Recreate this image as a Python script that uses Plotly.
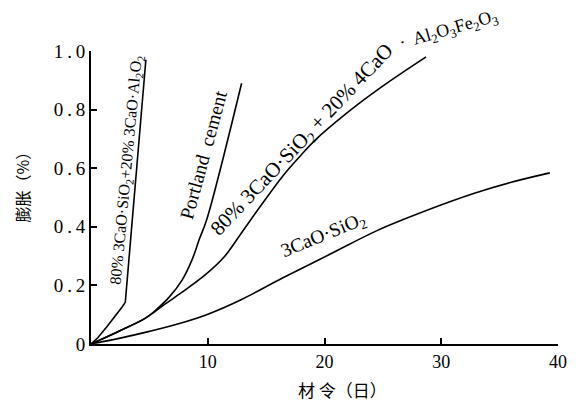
import plotly.graph_objects as go

# Expansion (%) vs. age (days) for several cement compositions
c3a_mix_days = [0, 0.6, 1.34, 2.2, 2.7, 2.94, 4.7]
c3a_mix_exp = [0, 0.022, 0.058, 0.10, 0.128, 0.143, 0.97]

portland_days = [0, 2.3, 4.7, 5.8, 6.7, 7.8, 8.65, 9.3, 9.9, 12.9]
portland_exp = [0, 0.042, 0.089, 0.125, 0.16, 0.218, 0.287, 0.36, 0.423, 0.89]

c4af_mix_days = [0, 2.3, 4.7, 6.3, 7.8, 9.75, 11.4, 12.9, 14.6, 16.4, 18.0, 19.2, 21.9, 24.8, 28.7]
c4af_mix_exp = [0, 0.042, 0.089, 0.135, 0.177, 0.235, 0.297, 0.38, 0.475, 0.572, 0.645, 0.696, 0.788, 0.875, 0.98]

c3s_days = [0, 2.5, 5.0, 7.5, 9.9, 12.9, 16.4, 20.5, 24.5, 28.5, 32.9, 36.0, 39.3]
c3s_exp = [0, 0.02, 0.043, 0.069, 0.10, 0.152, 0.225, 0.307, 0.387, 0.452, 0.515, 0.552, 0.584]

x_ticks = [10, 20, 30, 40]
y_ticks = [0, 0.2, 0.4, 0.6, 0.8, 1.0]
y_tick_text = ["0", "0\u2009.\u20092", "0\u2009.\u20094", "0\u2009.\u20096", "0\u2009.\u20098", "1\u2009.\u20090"]

SERIF = "Liberation Serif, Times New Roman, serif"
CJK = "Noto Sans CJK SC"

fig = go.Figure()
for xs, ys, shape in [(c3a_mix_days, c3a_mix_exp, "linear"),
                      (portland_days, portland_exp, "spline"),
                      (c4af_mix_days, c4af_mix_exp, "spline"),
                      (c3s_days, c3s_exp, "spline")]:
    fig.add_trace(go.Scatter(x=xs, y=ys, mode="lines",
                             line=dict(color="black", width=1.6, shape=shape, smoothing=1.0),
                             hoverinfo="skip", showlegend=False))

# curve labels, written along each curve
labels = [
    (3.1, "y", 0.594, "80% 3CaO·SiO<sub>2</sub>+20% 3CaO·Al<sub>2</sub>O<sub>2</sub>", -84.7, 16),
    (9.6, "y", 0.645, "Portland  cement", -74.7, 19.5),
    (18.1, "y", 0.696, "80% 3CaO·SiO<sub>2</sub> + 20% 4CaO", -46.6, 21),
    (30.6, "paper", 1.07, "·  Al<sub>2</sub>O<sub>3</sub>Fe<sub>2</sub>O<sub>3</sub>", -16, 18),
    (19.9, "y", 0.369, "3CaO·SiO<sub>2</sub>", -22.5, 19.5),
]
for x, yref, y, txt, ang, size in labels:
    fig.add_annotation(x=x, y=y, xref="x", yref=yref, text=txt, textangle=ang,
                       xanchor="center", yanchor="middle", showarrow=False,
                       font=dict(family=SERIF, size=size, color="black"))

# axis titles
fig.add_annotation(x=-0.147, y=0.549, xref="paper", yref="paper", text="膨胀（%）",
                   textangle=-90, xanchor="center", yanchor="middle", showarrow=False,
                   font=dict(family=CJK, size=16, color="black"))
fig.add_annotation(x=0.538, y=-0.154, xref="paper", yref="paper", text="材 令（日）",
                   xanchor="center", yanchor="middle", showarrow=False,
                   font=dict(family=CJK, size=17, color="black"))

fig.update_layout(
    width=578, height=404,
    margin=dict(l=91, r=11, t=51, b=60),
    paper_bgcolor="white", plot_bgcolor="white",
    xaxis=dict(range=[0, 40], tickvals=x_ticks, ticks="inside", ticklen=6,
               tickwidth=1.5, tickcolor="black", showline=True, linecolor="black",
               linewidth=2, showgrid=False, zeroline=False,
               tickfont=dict(family=SERIF, size=18, color="black")),
    yaxis=dict(range=[0, 1.0], tickvals=y_ticks, ticktext=y_tick_text, ticks="inside",
               ticklen=6, tickwidth=1.5, tickcolor="black", showline=True,
               linecolor="black", linewidth=2, showgrid=False, zeroline=False,
               tickfont=dict(family=SERIF, size=19, color="black")),
)

fig.write_html("out.html")
